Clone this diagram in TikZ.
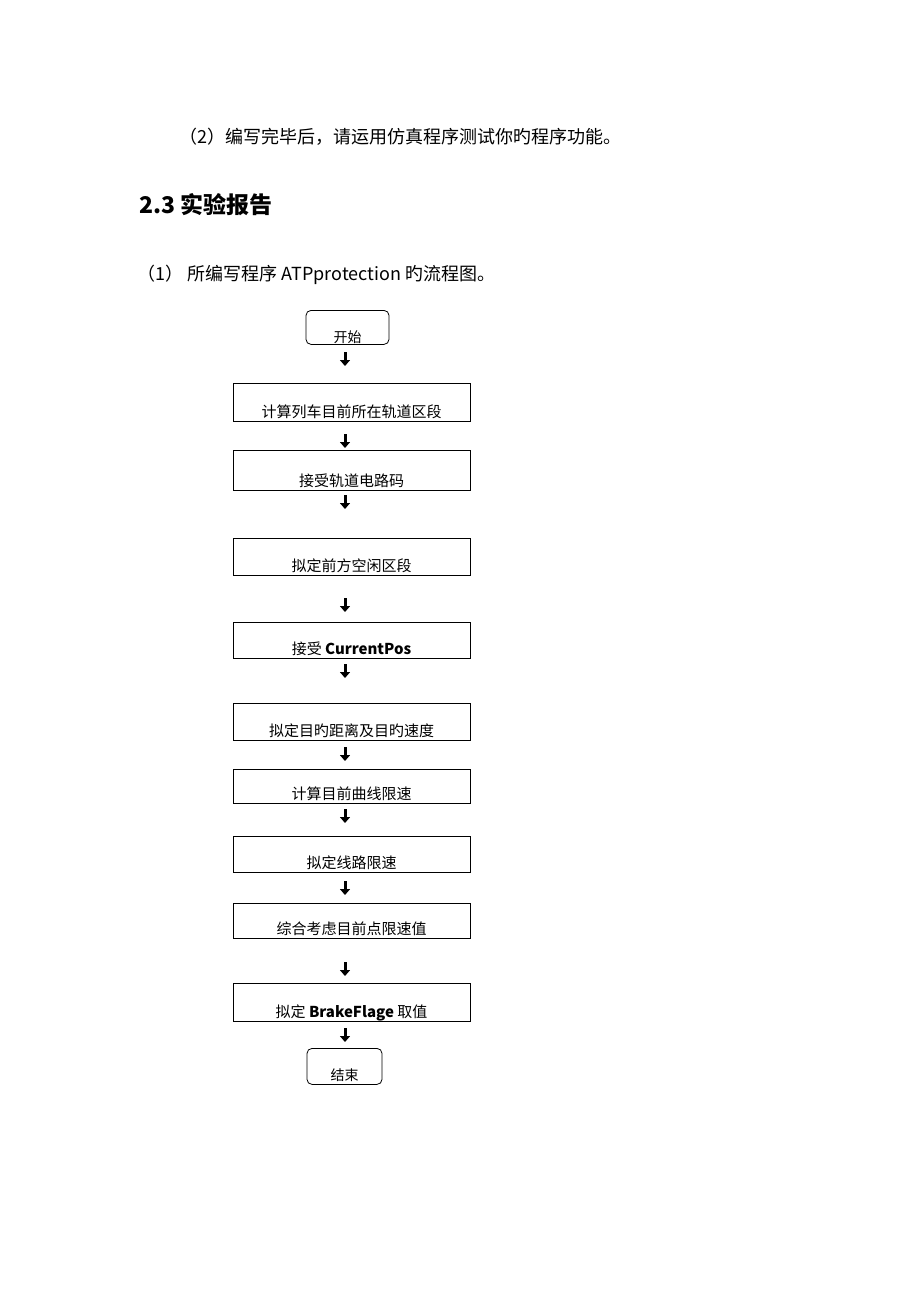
\documentclass[tikz,border=0pt]{standalone}
\usepackage{fontspec}
\setmainfont{Noto Sans CJK SC}
\usetikzlibrary{arrows.meta}
\tikzset{box/.style={draw,thick,minimum width=237pt,anchor=north,inner sep=0pt},
 term/.style={draw,thick,rounded corners=5pt,anchor=north,inner sep=0pt},
 lab/.style={anchor=base,font=\fontsize{15}{15}\selectfont},
 dn/.style={line width=3pt,-{Triangle[length=6pt,width=10pt]}}}
\begin{document}
\begin{tikzpicture}[x=1pt,y=-1pt]
\useasboundingbox (0,0) rectangle (920,1302);
\node[anchor=base west,font=\fontsize{18}{18}\selectfont] (t1) at (176,143) {（2）编写完毕后，请运用仿真程序测试你旳程序功能。};
\node[anchor=base west,font=\fontsize{23}{23}\selectfont\bfseries] (t2) at (136,213) {2.3 实验报告};
\node[anchor=base west,font=\fontsize{18}{18}\selectfont] (t3) at (134,280) {（1） 所编写程序 ATPprotection 旳流程图。};
% terminals
\node[term,minimum width=83pt,minimum height=34pt] (s) at (347.5,310) {};
\node[lab,font=\fontsize{14}{14}\selectfont] at (347.5,342) {开始};
\node[term,minimum width=75pt,minimum height=36pt] (e) at (344.5,1048) {};
\node[lab,font=\fontsize{14}{14}\selectfont] at (344.5,1080) {结束};
% boxes: name/top/height/text
\foreach \n/\t/\h/\txt in {b1/383/38/计算列车目前所在轨道区段, b2/450/40/接受轨道电路码, b3/538/37/拟定前方空闲区段, b4/622/36/接受 \textbf{CurrentPos}, b5/703/37/拟定目旳距离及目旳速度, b6/769/34/计算目前曲线限速, b7/836/36/拟定线路限速, b8/903/35/综合考虑目前点限速值, b9/983/38/拟定 \textbf{BrakeFlage} 取值}{
  \node[box,minimum height=\h pt] (\n) at (351.5,\t) {};
  \begin{scope}
  \clip (233,\t) rectangle (470,\t+\h);
  \node[lab] at (351.5,\t+\h-4) {\txt};
  \end{scope}
}
\foreach \a/\b in {352/366,434/448,495/509,598/612,664/678,747/761,809/823,881/895,962/976,1028/1042}{
  \coordinate (u\a) at (345,\a); \coordinate (v\a) at (345,\b);
  \draw[dn] (u\a) -- (v\a);
}
\end{tikzpicture}
\end{document}
